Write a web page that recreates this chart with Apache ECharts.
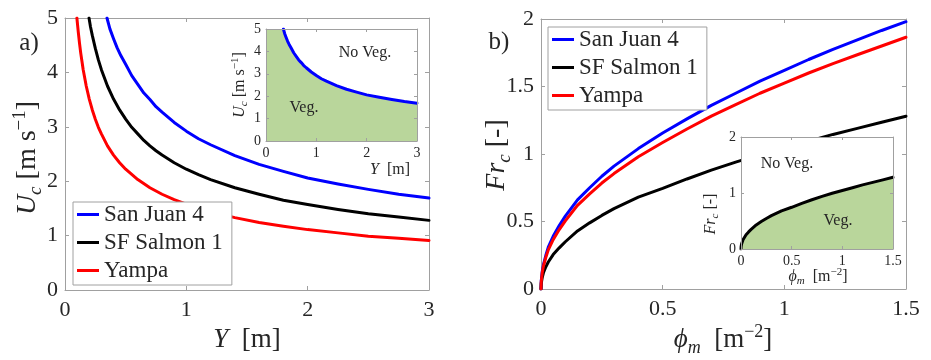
<!DOCTYPE html>
<html><head><meta charset="utf-8">
<script src="https://cdn.jsdelivr.net/npm/echarts@6/dist/echarts.min.js"></script>
<style>html,body{margin:0;padding:0;background:#fff}#c{width:931px;height:360px}</style>
</head><body><div id="c"></div><script>
// ---- data ----
const seriesNames = ['San Juan 4', 'SF Salmon 1', 'Yampa'];
const seriesColors = ['#0000ff', '#000000', '#ff0000'];

// Panel a: U_c vs Y
const depthBlue = [0.346, 0.37, 0.4, 0.43, 0.46, 0.5, 0.55, 0.6, 0.65, 0.7, 0.75, 0.8, 0.9, 1.0, 1.1, 1.2, 1.4, 1.6, 1.8, 2.0, 2.25, 2.5, 2.75, 3.0];
const ucBlue    = [5.0, 4.80, 4.62, 4.45, 4.31, 4.15, 3.94, 3.78, 3.62, 3.50, 3.37, 3.27, 3.08, 2.92, 2.78, 2.67, 2.47, 2.31, 2.18, 2.06, 1.95, 1.85, 1.76, 1.69];
const depthBlack = [0.198, 0.21, 0.225, 0.25, 0.275, 0.3, 0.35, 0.4, 0.45, 0.5, 0.55, 0.6, 0.65, 0.7, 0.75, 0.8, 0.9, 1.0, 1.1, 1.2, 1.4, 1.6, 1.8, 2.0, 2.25, 2.5, 2.75, 3.0];
const ucBlack    = [5.0, 4.84, 4.68, 4.44, 4.23, 4.05, 3.75, 3.51, 3.31, 3.14, 2.99, 2.87, 2.75, 2.65, 2.56, 2.48, 2.34, 2.22, 2.12, 2.03, 1.88, 1.76, 1.65, 1.57, 1.48, 1.40, 1.34, 1.28];
const depthRed = [0.098, 0.105, 0.11, 0.12, 0.13, 0.14, 0.15, 0.175, 0.2, 0.225, 0.25, 0.275, 0.3, 0.35, 0.4, 0.45, 0.5, 0.6, 0.7, 0.8, 0.9, 1.0, 1.2, 1.4, 1.6, 1.8, 2.0, 2.25, 2.5, 2.75, 3.0];
const ucRed    = [5.0, 4.84, 4.73, 4.53, 4.35, 4.20, 4.05, 3.75, 3.51, 3.31, 3.14, 2.99, 2.87, 2.65, 2.48, 2.34, 2.22, 2.03, 1.88, 1.76, 1.66, 1.58, 1.44, 1.33, 1.24, 1.17, 1.11, 1.05, 0.99, 0.95, 0.91];

// Panel b: Fr_c vs phi_m
const phi     = [0, 0.001, 0.005, 0.01, 0.02, 0.03, 0.05, 0.075, 0.1, 0.15, 0.2, 0.25, 0.3, 0.4, 0.5, 0.6, 0.7, 0.8, 0.9, 1.0, 1.1, 1.2, 1.3, 1.4, 1.5];
const frBlue  = [0, 0.06, 0.13, 0.18, 0.25, 0.31, 0.39, 0.47, 0.54, 0.66, 0.75, 0.835, 0.91, 1.04, 1.155, 1.26, 1.36, 1.45, 1.54, 1.62, 1.70, 1.775, 1.845, 1.915, 1.98];
const frBlack = [0, 0.04, 0.085, 0.12, 0.165, 0.20, 0.255, 0.305, 0.35, 0.43, 0.49, 0.545, 0.595, 0.68, 0.745, 0.815, 0.88, 0.94, 0.995, 1.045, 1.095, 1.145, 1.19, 1.235, 1.28];
const frRed   = [0, 0.055, 0.12, 0.17, 0.235, 0.29, 0.365, 0.44, 0.505, 0.62, 0.705, 0.785, 0.855, 0.98, 1.085, 1.185, 1.28, 1.365, 1.45, 1.525, 1.60, 1.67, 1.735, 1.80, 1.865];

// Axis ranges
const axA = {xmin: 0, xmax: 3, xint: 1, ymin: 0, ymax: 5, yint: 1};
const axB = {xmin: 0, xmax: 1.5, xint: 0.5, ymin: 0, ymax: 2, yint: 0.5};
const axBin = {xmin: 0, xmax: 1.5, xint: 0.5, ymin: 0, ymax: 2, yint: 1};

// ---- build ----
const FONT = "'Liberation Serif', 'Times New Roman', serif";
const FRAME = '#a0a0a0';
const TXT = '#262626';
const GREEN = '#b9d69b';
const zip = (a, b) => a.map((v, i) => [v, b[i]]);

const grids = [
  {left: 65, top: 18, width: 364, height: 272},
  {left: 266, top: 29, width: 151, height: 112, show: true, backgroundColor: '#fff', borderWidth: 0, z: 10},
  {left: 541, top: 19, width: 365, height: 270},
  {left: 741, top: 137, width: 152, height: 112, show: true, backgroundColor: '#fff', borderWidth: 0, z: 10}
];

const xAxis = [], yAxis = [];
function addAxes(gi, r, fs, tl, z) {
  const line = {show: true, onZero: false, lineStyle: {color: FRAME, width: 1}};
  const tick = {show: true, inside: true, length: tl, lineStyle: {color: FRAME}};
  const lab = {show: true, color: TXT, fontFamily: FONT, fontSize: fs};
  xAxis.push({type: 'value', gridIndex: gi, position: 'bottom', min: r.xmin, max: r.xmax, interval: r.xint,
    axisLine: line, axisTick: tick, splitLine: {show: false}, axisLabel: Object.assign({margin: fs > 15 ? 9 : 5}, lab), z: z});
  xAxis.push({type: 'value', gridIndex: gi, position: 'top', min: r.xmin, max: r.xmax, interval: r.xint,
    axisLine: line, axisTick: tick, splitLine: {show: false}, axisLabel: {show: false}, z: z});
  yAxis.push({type: 'value', gridIndex: gi, position: 'left', min: r.ymin, max: r.ymax, interval: r.yint,
    axisLine: line, axisTick: tick, splitLine: {show: false}, axisLabel: Object.assign({margin: fs > 15 ? 7 : 5}, lab), z: z});
  yAxis.push({type: 'value', gridIndex: gi, position: 'right', min: r.ymin, max: r.ymax, interval: r.yint,
    axisLine: line, axisTick: tick, splitLine: {show: false}, axisLabel: {show: false}, z: z});
}
addAxes(0, axA, 22, 4, 0);
addAxes(1, axA, 14, 3, 13);
addAxes(2, axB, 22, 4, 0);
addAxes(3, axBin, 14, 3, 13);

function lineSeries(name, data, color, xi, yi, z) {
  return {type: 'line', name: name, data: data, xAxisIndex: xi, yAxisIndex: yi,
    showSymbol: false, symbol: 'none', smooth: false,
    color: color, lineStyle: {width: 3, color: color, join: 'round', cap: 'round'}, z: z, animation: false};
}
const aData = [zip(depthBlue, ucBlue), zip(depthBlack, ucBlack), zip(depthRed, ucRed)];
const bData = [zip(phi, frBlue), zip(phi, frBlack), zip(phi, frRed)];

const series = [];
for (let i = 0; i < 3; i++) series.push(lineSeries(seriesNames[i], aData[i], seriesColors[i], 0, 0, 2));
for (let i = 0; i < 3; i++) series.push(lineSeries(seriesNames[i], bData[i], seriesColors[i], 4, 4, 2));
// inset a: fill under San Juan 4 curve
series.push({type: 'line', name: 'inset-a-fill', data: [[axA.xmin, axA.ymax]].concat(aData[0]),
  xAxisIndex: 2, yAxisIndex: 2, showSymbol: false, symbol: 'none', smooth: false,
  lineStyle: {width: 0}, areaStyle: {color: GREEN, opacity: 1}, z: 11, animation: false});
series.push(lineSeries('inset-a-line', aData[0], seriesColors[0], 2, 2, 12));
// inset b: fill under SF Salmon 1 curve
series.push({type: 'line', name: 'inset-b-fill', data: bData[1],
  xAxisIndex: 6, yAxisIndex: 6, showSymbol: false, symbol: 'none', smooth: false,
  lineStyle: {width: 0}, areaStyle: {color: GREEN, opacity: 1}, z: 11, animation: false});
series.push(lineSeries('inset-b-line', bData[1], seriesColors[1], 6, 6, 12));

function legend(left, top) {
  return {orient: 'vertical', left: left, top: top, data: seriesNames, icon: 'rect',
    itemWidth: 22, itemHeight: 3, itemGap: 5, itemTextGap: 3, padding: [1, 9, 3, 4],
    backgroundColor: '#fff', borderColor: FRAME, borderWidth: 1, borderRadius: 0,
    selectedMode: false, z: 5,
    textStyle: {fontFamily: FONT, fontSize: 23, color: TXT}};
}

function richStyle(fs) {
  const s = Math.round(fs * 0.68);
  return {
    n: {fontFamily: FONT, fontSize: fs, lineHeight: fs * 1.25, verticalAlign: 'middle', fill: TXT},
    it: {fontFamily: FONT, fontSize: fs, fontStyle: 'italic', lineHeight: fs * 1.25, verticalAlign: 'middle', fill: TXT},
    sub: {fontFamily: FONT, fontSize: s, fontStyle: 'italic', lineHeight: s, verticalAlign: 'bottom', fill: TXT},
    sup: {fontFamily: FONT, fontSize: s, lineHeight: s, verticalAlign: 'top', fill: TXT}
  };
}
function label(text, x, y, fs, rot) {
  return {type: 'text', x: x, y: y, rotation: rot ? Math.PI / 2 : 0, z: 100,
    style: {text: text, rich: richStyle(fs), fontFamily: FONT, fontSize: fs, fill: TXT,
      align: 'center', verticalAlign: 'middle'}};
}
const ucTitle = '{it|U}{sub|c}{n| [m s}{sup|\u22121}{n|]}';
const yTitle = '{it|Y}{n|  [m]}';
const frTitle = '{it|Fr}{sub|c}{n| [-]}';
const phiTitle = '{it|\u03d5}{sub|m}{n|  [m}{sup|\u22122}{n|]}';

const graphic = [
  label('{n|a)}', 29, 43, 25, false),
  label('{n|b)}', 499, 42, 25, false),
  label(ucTitle, 28, 158, 28, true),
  label(yTitle, 247, 340, 27, false),
  label(frTitle, 497, 155, 28, true),
  label(phiTitle, 723, 340, 27, false),
  label(ucTitle, 240, 85, 16, true),
  label(yTitle, 390, 170, 16, false),
  label(frTitle, 711, 214, 16, true),
  label(phiTitle, 818, 277, 16, false),
  label('{n|No Veg.}', 365, 53, 16, false),
  label('{n|Veg.}', 304, 108, 16, false),
  label('{n|No Veg.}', 787, 164, 16, false),
  label('{n|Veg.}', 838, 221, 16, false)
];

const chart = echarts.init(document.getElementById('c'), null, {renderer: 'canvas'});
chart.setOption({
  animation: false,
  backgroundColor: '#fff',
  grid: grids,
  xAxis: xAxis,
  yAxis: yAxis,
  legend: [legend(73, 202), legend(548, 27)],
  series: series,
  graphic: graphic
});
</script></body></html>
